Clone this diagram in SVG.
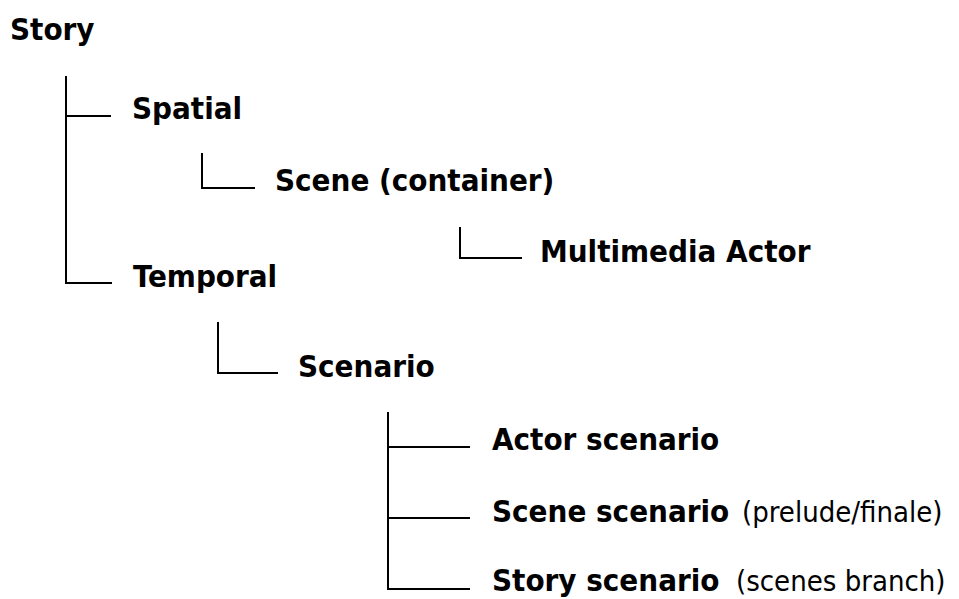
<svg xmlns="http://www.w3.org/2000/svg" width="959" height="599" viewBox="0 0 959 599">
  <style>
    .label { font-family: "DejaVu Sans Condensed", "DejaVu Sans", sans-serif; font-size: 31px; font-weight: bold; fill: #000; }
    .note { font-weight: normal; font-size: 29px; }
    .link { fill: none; stroke: #000; stroke-width: 2; }
  </style>
  <rect width="959" height="599" fill="#fff"/>

  <!-- tree connectors -->
  <g id="connectors">
    <path class="link" d="M66 76 V283 H112 M66 116 H111"/>
    <path class="link" d="M202 153 V188 H255"/>
    <path class="link" d="M460 227 V258 H522"/>
    <path class="link" d="M218 322 V373 H278"/>
    <path class="link" d="M388 412 V589 H470 M388 447 H470 M388 518 H470"/>
  </g>

  <g id="story"><text class="label" x="10" y="40">Story</text></g>
  <g id="spatial"><text class="label" x="132" y="119">Spatial</text></g>
  <g id="scene"><text class="label" x="275" y="191">Scene (container)</text></g>
  <g id="multimedia-actor"><text class="label" x="540" y="262">Multimedia Actor</text></g>
  <g id="temporal"><text class="label" x="133" y="287">Temporal</text></g>
  <g id="scenario"><text class="label" x="298" y="377">Scenario</text></g>
  <g id="actor-scenario"><text class="label" x="492" y="450">Actor scenario</text></g>
  <g id="scene-scenario"><text class="label" x="492" y="522">Scene scenario <tspan class="note" x="742">(prelude/finale)</tspan></text></g>
  <g id="story-scenario"><text class="label" x="492" y="591">Story scenario <tspan class="note" x="736">(scenes branch)</tspan></text></g>
</svg>
